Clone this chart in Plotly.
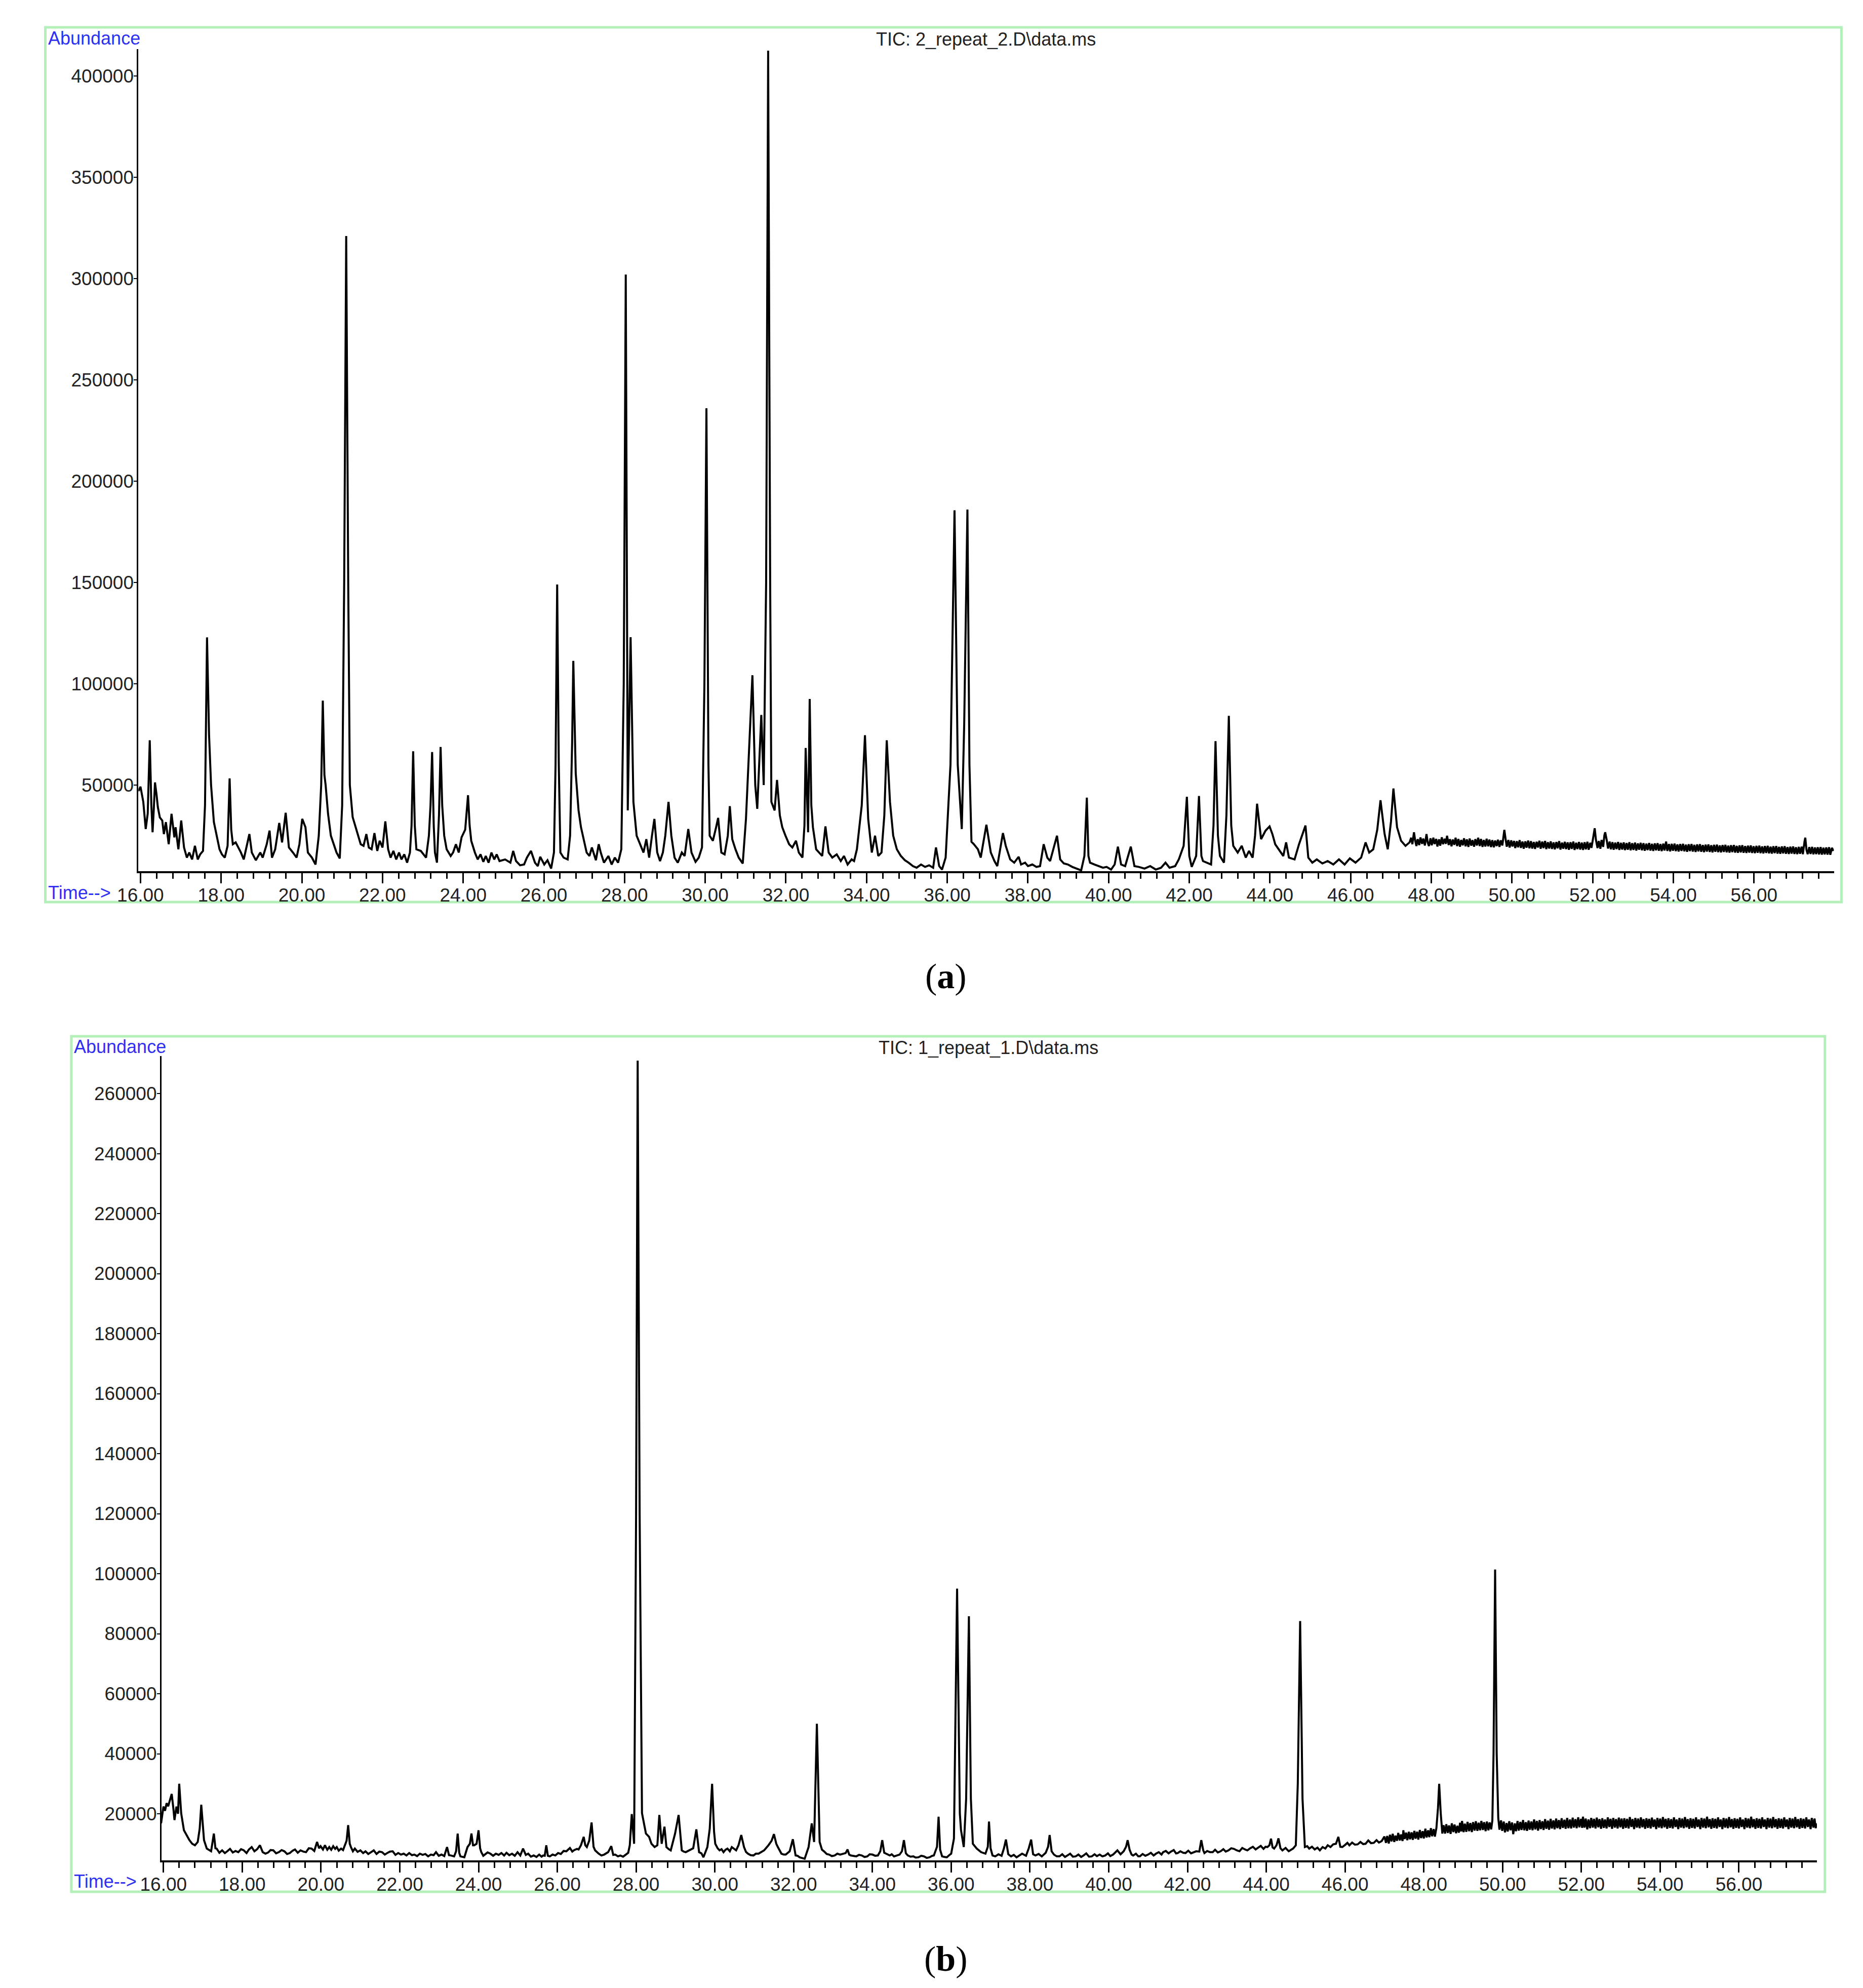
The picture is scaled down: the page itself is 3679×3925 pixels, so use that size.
import plotly.graph_objects as go

# ---------------- data: panel (a)  TIC: 2_repeat_2.D\data.ms  (time [min], abundance) ----------------
chrom_a = [
    (15.95, 47000), (16.00, 49200), (16.07, 41700), (16.13, 28300), (16.18, 36000), (16.23, 72100),
    (16.27, 40000), (16.30, 26700), (16.33, 38000), (16.36, 51300), (16.40, 45000), (16.43, 39200),
    (16.48, 34000), (16.54, 32500), (16.58, 25800), (16.63, 31700), (16.70, 20800), (16.77, 35800),
    (16.84, 24200), (16.87, 29200), (16.94, 18300), (17.01, 32500), (17.08, 19200), (17.15, 14200),
    (17.21, 16700), (17.28, 13300), (17.35, 20000), (17.42, 13300), (17.48, 15800), (17.55, 17500),
    (17.60, 40000), (17.65, 122900), (17.70, 75000), (17.75, 50000), (17.82, 31700), (17.89, 25000),
    (17.96, 18300), (18.02, 15800), (18.09, 14200), (18.16, 20000), (18.21, 53300), (18.25, 28000),
    (18.29, 20800), (18.36, 21700), (18.43, 19200), (18.49, 16700), (18.56, 13300), (18.63, 20000),
    (18.70, 25800), (18.76, 16700), (18.86, 12900), (18.97, 16700), (19.03, 14200), (19.13, 20800),
    (19.20, 27500), (19.26, 14200), (19.34, 18300), (19.44, 31300), (19.51, 21700), (19.60, 36300),
    (19.68, 19200), (19.78, 16700), (19.87, 14200), (19.94, 20800), (20.01, 33300), (20.09, 29200),
    (20.15, 16700), (20.25, 14200), (20.34, 10800), (20.42, 25000), (20.48, 50000), (20.52, 91700),
    (20.56, 55000), (20.59, 50000), (20.65, 35800), (20.72, 25000), (20.79, 20800), (20.86, 16700),
    (20.94, 13800), (21.00, 40000), (21.05, 150000), (21.10, 321000), (21.15, 150000), (21.19, 50000),
    (21.26, 34200), (21.33, 29200), (21.39, 25000), (21.46, 20800), (21.53, 20000), (21.60, 25800),
    (21.66, 19200), (21.73, 18300), (21.80, 26300), (21.87, 17500), (21.93, 22500), (22.00, 19200),
    (22.07, 32100), (22.14, 18300), (22.20, 14200), (22.27, 17500), (22.34, 13300), (22.41, 16700),
    (22.47, 13300), (22.54, 15800), (22.61, 11700), (22.68, 16700), (22.72, 30000), (22.76, 66700),
    (22.80, 30000), (22.84, 18300), (22.95, 17500), (23.01, 15800), (23.08, 14200), (23.15, 25000),
    (23.19, 40000), (23.23, 66300), (23.27, 30000), (23.30, 16700), (23.35, 11700), (23.40, 35000),
    (23.44, 68800), (23.48, 40000), (23.53, 25000), (23.59, 18300), (23.69, 15000), (23.75, 16700),
    (23.82, 20800), (23.89, 16700), (23.96, 24200), (24.05, 28000), (24.12, 45000), (24.16, 30000),
    (24.20, 22500), (24.29, 16700), (24.36, 13300), (24.43, 15800), (24.50, 12100), (24.56, 15000),
    (24.63, 11700), (24.70, 16700), (24.77, 13300), (24.83, 15800), (24.90, 12500), (25.04, 13300),
    (25.17, 11700), (25.24, 17500), (25.31, 12500), (25.41, 10400), (25.51, 10800), (25.58, 14200),
    (25.68, 17500), (25.78, 11700), (25.85, 10000), (25.91, 14600), (26.01, 10800), (26.09, 12900),
    (26.18, 8800), (26.25, 16700), (26.29, 60000), (26.33, 149000), (26.37, 60000), (26.41, 16700),
    (26.49, 14200), (26.59, 13300), (26.65, 25000), (26.70, 70000), (26.73, 111300), (26.79, 55800),
    (26.86, 37500), (26.92, 29200), (26.99, 22500), (27.06, 16700), (27.13, 15000), (27.19, 19200),
    (27.29, 12900), (27.36, 20800), (27.41, 16700), (27.49, 11700), (27.60, 15000), (27.68, 10800),
    (27.76, 14200), (27.84, 11700), (27.92, 18300), (27.98, 100000), (28.03, 302000), (28.08, 37500),
    (28.15, 123000), (28.22, 41700), (28.30, 25000), (28.38, 20800), (28.47, 16700), (28.54, 23300),
    (28.61, 14200), (28.68, 25000), (28.74, 33300), (28.81, 16700), (28.88, 12500), (28.95, 16700),
    (29.01, 25000), (29.09, 41700), (29.16, 25000), (29.24, 14200), (29.32, 11700), (29.42, 16700),
    (29.49, 15000), (29.58, 28300), (29.66, 16700), (29.76, 12100), (29.84, 14200), (29.92, 19200),
    (29.98, 100000), (30.03, 236000), (30.08, 60000), (30.11, 25000), (30.19, 22500), (30.27, 29200),
    (30.32, 33800), (30.40, 16700), (30.48, 15800), (30.56, 25000), (30.61, 39600), (30.67, 23300),
    (30.75, 18300), (30.83, 14200), (30.93, 11300), (31.01, 33300), (31.10, 75000), (31.17, 104200),
    (31.24, 50000), (31.29, 38300), (31.39, 84600), (31.45, 50000), (31.51, 150000), (31.56, 412500),
    (31.61, 150000), (31.64, 41700), (31.72, 37500), (31.78, 52500), (31.85, 35000), (31.91, 29200),
    (31.99, 25000), (32.08, 20800), (32.16, 19200), (32.25, 22500), (32.32, 16700), (32.41, 14200),
    (32.46, 30000), (32.49, 68300), (32.55, 26700), (32.59, 92500), (32.63, 40000), (32.67, 29200),
    (32.75, 18300), (32.83, 16700), (32.90, 15000), (32.98, 29600), (33.06, 16700), (33.15, 14200),
    (33.26, 15800), (33.36, 12500), (33.44, 15000), (33.53, 10800), (33.63, 13300), (33.69, 12500),
    (33.76, 18300), (33.88, 40000), (33.96, 74600), (34.04, 33300), (34.13, 16700), (34.21, 25000),
    (34.29, 15000), (34.37, 16700), (34.44, 35000), (34.50, 72100), (34.58, 41700), (34.66, 25000),
    (34.75, 18300), (34.85, 15000), (34.95, 12900), (35.04, 11700), (35.15, 10000), (35.24, 9200),
    (35.35, 10800), (35.45, 9600), (35.55, 10400), (35.65, 9200), (35.72, 19200), (35.80, 10000),
    (35.87, 8300), (35.96, 14200), (36.08, 60000), (36.18, 185600), (36.26, 60000), (36.36, 28300),
    (36.42, 80000), (36.50, 186000), (36.55, 60000), (36.60, 22000), (36.66, 20800), (36.76, 18300),
    (36.83, 14200), (36.97, 30400), (37.08, 16700), (37.17, 12500), (37.24, 10000), (37.38, 26300),
    (37.45, 20000), (37.56, 13300), (37.66, 11700), (37.77, 14600), (37.83, 10800), (37.93, 11700),
    (38.00, 10000), (38.11, 10800), (38.21, 9600), (38.30, 10000), (38.39, 20800), (38.48, 14200),
    (38.55, 12500), (38.72, 25000), (38.80, 13300), (38.89, 11300), (38.99, 10800), (39.10, 9600),
    (39.21, 8800), (39.32, 7900), (39.40, 15000), (39.46, 43800), (39.50, 15000), (39.54, 11700),
    (39.65, 10800), (39.76, 10000), (39.86, 9200), (39.95, 9600), (40.06, 8300), (40.15, 10800),
    (40.23, 19600), (40.31, 10800), (40.41, 10000), (40.55, 19600), (40.64, 10000), (40.75, 9600),
    (40.89, 8800), (41.03, 10000), (41.17, 8300), (41.30, 9200), (41.41, 11700), (41.51, 9200),
    (41.65, 10000), (41.74, 13300), (41.86, 20000), (41.94, 44200), (42.00, 15000), (42.06, 9600),
    (42.17, 15000), (42.24, 44600), (42.30, 15000), (42.34, 12500), (42.43, 11700), (42.54, 10800),
    (42.60, 30000), (42.65, 71700), (42.71, 25000), (42.76, 15000), (42.86, 11700), (42.92, 35000),
    (42.98, 84200), (43.04, 30000), (43.09, 20000), (43.20, 16700), (43.30, 20000), (43.40, 14200),
    (43.48, 17500), (43.57, 14200), (43.63, 25000), (43.68, 40800), (43.78, 23300), (43.89, 27500),
    (43.99, 29600), (44.06, 25800), (44.13, 20800), (44.22, 18300), (44.33, 15000), (44.40, 21700),
    (44.47, 14200), (44.61, 13300), (44.72, 20800), (44.88, 30000), (44.95, 14200), (45.05, 11700),
    (45.16, 13300), (45.30, 11300), (45.43, 12500), (45.57, 10800), (45.71, 13300), (45.85, 10800),
    (45.98, 13800), (46.12, 11700), (46.26, 14200), (46.37, 21700), (46.46, 16700), (46.56, 18300),
    (46.66, 28000), (46.74, 42500), (46.84, 26000), (46.92, 18300), (47.00, 32000), (47.06, 48300),
    (47.15, 29200), (47.25, 22500), (47.36, 20000),
]

# noisy late baseline of panel (a), read point by point
tail_a = [
    (47.46, 21700), (47.50, 24000), (47.53, 20800), (47.57, 26700), (47.60, 22500), (47.63, 19900),
    (47.66, 23300), (47.70, 20400), (47.73, 24100), (47.77, 21000), (47.80, 23600), (47.84, 20200),
    (47.88, 25800), (47.91, 21700), (47.94, 19900), (47.98, 23700), (48.01, 20300), (48.05, 24000),
    (48.08, 20900), (48.12, 23400), (48.15, 19700), (48.19, 23200), (48.22, 20100), (48.26, 24200),
    (48.29, 20800), (48.33, 23500), (48.36, 21000), (48.39, 25000), (48.43, 20400), (48.46, 23300),
    (48.50, 19800), (48.53, 23100), (48.57, 20500), (48.60, 24000), (48.64, 19900), (48.67, 23400),
    (48.71, 19600), (48.74, 22900), (48.78, 20300), (48.81, 23700), (48.85, 19800), (48.88, 23200),
    (48.92, 19500), (48.95, 23600), (48.99, 20100), (49.02, 22800), (49.06, 19600), (49.09, 23300),
    (49.13, 20200), (49.16, 24000), (49.20, 19900), (49.23, 23400), (49.27, 19500), (49.30, 22900),
    (49.34, 19700), (49.37, 23500), (49.41, 19800), (49.44, 23100), (49.48, 19400), (49.51, 22800),
    (49.55, 19300), (49.58, 22600), (49.62, 19900), (49.65, 23000), (49.69, 19500), (49.72, 22700),
    (49.76, 20200), (49.79, 25000), (49.81, 27900), (49.84, 23500), (49.87, 19600), (49.91, 22900),
    (49.94, 19200), (49.98, 22700), (50.01, 19700), (50.05, 22400), (50.08, 18900), (50.12, 22300),
    (50.15, 19300), (50.19, 22800), (50.22, 19000), (50.26, 22100), (50.29, 18600), (50.33, 22200),
    (50.36, 19100), (50.40, 22600), (50.43, 18800), (50.47, 22300), (50.50, 18700), (50.54, 21900),
    (50.57, 18500), (50.61, 22000), (50.64, 19200), (50.68, 22500), (50.71, 18600), (50.75, 22100),
    (50.78, 18900), (50.82, 22400), (50.85, 18400), (50.89, 21800), (50.92, 18700), (50.96, 22200),
    (50.99, 18500), (51.03, 21700), (51.06, 18300), (51.10, 21900), (51.13, 18800), (51.17, 22300),
    (51.20, 18200), (51.24, 21600), (51.27, 18600), (51.31, 22000), (51.34, 18400), (51.38, 21700),
    (51.41, 18100), (51.45, 21800), (51.48, 18500), (51.52, 22100), (51.55, 18000), (51.59, 21500),
    (51.62, 18400), (51.66, 21900), (51.69, 18200), (51.73, 21600), (51.76, 18000), (51.80, 21800),
    (51.83, 18300), (51.87, 22000), (51.90, 18100), (51.94, 21500), (51.97, 19000), (52.01, 23800),
    (52.05, 28700), (52.08, 23000), (52.12, 18900), (52.15, 22400), (52.19, 18600), (52.22, 22900),
    (52.26, 19500), (52.29, 25200), (52.31, 26700), (52.35, 22600), (52.38, 18700), (52.42, 22100),
    (52.45, 18300), (52.49, 21800), (52.52, 18100), (52.56, 21600), (52.59, 18400), (52.63, 21900),
    (52.66, 18000), (52.70, 21500), (52.73, 18200), (52.77, 21700), (52.80, 17900), (52.84, 21400),
    (52.87, 18100), (52.91, 21800), (52.94, 17800), (52.98, 21300), (53.01, 18000), (53.05, 21600),
    (53.08, 17700), (53.12, 21200), (53.15, 18100), (53.19, 21500), (53.22, 17800), (53.26, 21300),
    (53.29, 17600), (53.33, 21100), (53.36, 17900), (53.40, 21400), (53.43, 17700), (53.47, 21000),
    (53.50, 17500), (53.54, 21200), (53.57, 17800), (53.61, 21300), (53.64, 17600), (53.68, 20900),
    (53.71, 17400), (53.75, 21100), (53.78, 17700), (53.82, 22100), (53.85, 17500), (53.89, 20900),
    (53.92, 17300), (53.96, 21000), (53.99, 17600), (54.03, 21100), (54.06, 17400), (54.10, 20700),
    (54.13, 17200), (54.17, 20900), (54.20, 17500), (54.24, 21000), (54.27, 17300), (54.31, 20600),
    (54.34, 17100), (54.38, 20800), (54.41, 17400), (54.45, 20900), (54.48, 17200), (54.52, 20500),
    (54.55, 17000), (54.59, 20700), (54.62, 17300), (54.66, 20800), (54.69, 17100), (54.73, 20400),
    (54.76, 16900), (54.80, 20600), (54.83, 17200), (54.87, 20700), (54.90, 17000), (54.94, 20300),
    (54.97, 16800), (55.01, 20500), (55.04, 17100), (55.08, 20600), (55.11, 16900), (55.15, 20200),
    (55.18, 16800), (55.22, 20400), (55.25, 17000), (55.29, 20500), (55.32, 16800), (55.36, 20100),
    (55.39, 16700), (55.43, 20300), (55.46, 16900), (55.50, 20400), (55.53, 16700), (55.57, 20000),
    (55.60, 16600), (55.64, 20200), (55.67, 16800), (55.71, 20300), (55.74, 16600), (55.78, 19900),
    (55.81, 16500), (55.85, 20100), (55.88, 16700), (55.92, 20200), (55.95, 16500), (55.99, 19800),
    (56.02, 16400), (56.06, 20000), (56.09, 16600), (56.13, 20100), (56.16, 16400), (56.20, 19700),
    (56.23, 16300), (56.27, 19900), (56.30, 16500), (56.34, 20000), (56.37, 16300), (56.41, 19600),
    (56.44, 16200), (56.48, 19800), (56.51, 16400), (56.55, 19900), (56.58, 16200), (56.62, 19500),
    (56.65, 16100), (56.69, 19700), (56.72, 16300), (56.76, 19800), (56.79, 16100), (56.83, 19400),
    (56.86, 16000), (56.90, 19600), (56.93, 16200), (56.97, 19700), (57.00, 16000), (57.04, 19300),
    (57.07, 15900), (57.11, 19500), (57.14, 16100), (57.18, 19600), (57.21, 15900), (57.25, 22000),
    (57.27, 24000), (57.30, 18000), (57.33, 15900), (57.37, 19400), (57.40, 16000), (57.44, 19500),
    (57.47, 15800), (57.51, 19200), (57.54, 15900), (57.58, 19300), (57.61, 15800), (57.65, 19400),
    (57.68, 15700), (57.72, 19100), (57.75, 15800), (57.79, 19200), (57.82, 15700), (57.86, 19300),
    (57.89, 15600), (57.93, 19000), (57.97, 17500),
]

# ---------------- data: panel (b)  TIC: 1_repeat_1.D\data.ms ----------------
chrom_b = [
    (15.94, 16800), (16.00, 22400), (16.04, 21000), (16.08, 23500), (16.12, 22500), (16.15, 24100),
    (16.21, 26600), (16.25, 22000), (16.28, 17900), (16.33, 22400), (16.37, 20000), (16.40, 30000),
    (16.45, 20200), (16.52, 14500), (16.59, 12900), (16.66, 11200), (16.73, 10000), (16.80, 9500),
    (16.87, 10600), (16.92, 15000), (16.96, 23000), (17.00, 15000), (17.03, 11200), (17.10, 8400),
    (17.21, 7500), (17.28, 13400), (17.32, 8500), (17.35, 8400), (17.42, 7000), (17.49, 7800),
    (17.56, 6900), (17.62, 7500), (17.69, 8300), (17.76, 7100), (17.83, 7600), (17.90, 7200),
    (17.97, 8200), (18.04, 7800), (18.11, 6900), (18.17, 8100), (18.24, 8900), (18.31, 7500),
    (18.38, 8200), (18.45, 9500), (18.52, 7200), (18.59, 6700), (18.66, 7100), (18.72, 7900),
    (18.79, 7800), (18.86, 6800), (18.93, 7200), (19.00, 7900), (19.07, 7500), (19.14, 6600),
    (19.21, 6900), (19.28, 7700), (19.34, 8100), (19.41, 7000), (19.48, 7800), (19.55, 7400),
    (19.62, 7200), (19.69, 8500), (19.76, 8400), (19.83, 7600), (19.90, 10600), (19.95, 8500),
    (19.99, 9200), (20.05, 8100), (20.10, 9500), (20.16, 8000), (20.21, 8900), (20.26, 8000),
    (20.31, 9200), (20.36, 8300), (20.40, 8900), (20.45, 7700), (20.51, 8400), (20.56, 7900),
    (20.60, 9500), (20.65, 11000), (20.69, 16200), (20.73, 10000), (20.76, 8900), (20.81, 7500),
    (20.86, 8400), (20.93, 7300), (21.00, 7800), (21.07, 6900), (21.13, 7500), (21.20, 6600),
    (21.27, 7200), (21.34, 7800), (21.41, 6600), (21.48, 7400), (21.55, 7200), (21.62, 6400),
    (21.68, 6900), (21.75, 7400), (21.82, 7500), (21.89, 6300), (21.96, 6900), (22.03, 6400),
    (22.10, 6700), (22.17, 6100), (22.24, 6900), (22.31, 6200), (22.37, 6400), (22.44, 5900),
    (22.51, 6700), (22.58, 6300), (22.65, 6600), (22.72, 5800), (22.79, 6400), (22.86, 6200),
    (22.92, 7200), (22.99, 6000), (23.06, 6400), (23.13, 5900), (23.20, 8900), (23.25, 6200),
    (23.30, 6100), (23.38, 5800), (23.43, 7500), (23.47, 13400), (23.51, 7000), (23.54, 5800),
    (23.64, 5500), (23.72, 8900), (23.78, 10000), (23.82, 13400), (23.86, 9500), (23.89, 9500),
    (23.95, 10000), (24.00, 14500), (24.04, 8500), (24.07, 7200), (24.12, 6000), (24.16, 6400),
    (24.23, 7100), (24.30, 6700), (24.37, 6000), (24.44, 6700), (24.51, 6300), (24.58, 6900),
    (24.65, 6100), (24.71, 7000), (24.78, 6200), (24.85, 6700), (24.92, 6000), (24.99, 7200),
    (25.06, 6100), (25.13, 8400), (25.20, 6300), (25.26, 6700), (25.33, 5700), (25.40, 6100),
    (25.47, 5600), (25.54, 6400), (25.60, 5700), (25.64, 6100), (25.68, 6000), (25.72, 9500),
    (25.76, 6000), (25.81, 5800), (25.88, 6400), (25.95, 6100), (26.02, 6900), (26.09, 6600),
    (26.16, 7600), (26.23, 7500), (26.32, 8600), (26.38, 7400), (26.43, 7900), (26.50, 8300),
    (26.54, 8100), (26.60, 9500), (26.67, 12300), (26.71, 9500), (26.75, 8900), (26.81, 11000),
    (26.87, 17100), (26.92, 9000), (26.96, 7800), (27.05, 6700), (27.12, 6100), (27.19, 6400),
    (27.29, 7200), (27.37, 9200), (27.42, 6300), (27.47, 6400), (27.54, 5800), (27.60, 6100),
    (27.67, 5700), (27.74, 6400), (27.80, 7000), (27.84, 9500), (27.89, 19900), (27.95, 10000),
    (28.00, 120000), (28.04, 271000), (28.09, 120000), (28.15, 20200), (28.25, 13400), (28.33, 12300),
    (28.39, 10000), (28.47, 8900), (28.54, 9500), (28.59, 19600), (28.65, 10000), (28.72, 15700),
    (28.77, 8900), (28.83, 8200), (28.88, 7800), (28.99, 13400), (29.08, 19600), (29.16, 7800),
    (29.21, 7400), (29.26, 7200), (29.35, 7800), (29.45, 8500), (29.53, 14800), (29.60, 7200),
    (29.66, 6800), (29.71, 5500), (29.81, 8900), (29.87, 15000), (29.93, 30000), (29.98, 14000),
    (30.01, 10000), (30.07, 8500), (30.12, 7800), (30.17, 8200), (30.22, 7200), (30.27, 8000),
    (30.32, 8400), (30.38, 7500), (30.43, 8900), (30.54, 7800), (30.60, 9500), (30.67, 12900),
    (30.74, 8900), (30.79, 7300), (30.84, 6700), (30.91, 6200), (30.98, 6100), (31.04, 6700),
    (31.11, 6700), (31.18, 7200), (31.25, 7800), (31.36, 9500), (31.44, 11000), (31.50, 13200),
    (31.56, 10000), (31.60, 8900), (31.69, 6700), (31.75, 6400), (31.80, 6400), (31.90, 7500),
    (31.98, 11500), (32.05, 6100), (32.10, 6000), (32.15, 5500), (32.22, 5200), (32.28, 5000),
    (32.38, 8900), (32.46, 16800), (32.52, 10600), (32.59, 50000), (32.66, 10600), (32.72, 8000),
    (32.77, 7500), (32.84, 6600), (32.90, 6400), (32.97, 5900), (33.04, 6100), (33.11, 6700),
    (33.18, 6400), (33.25, 6700), (33.32, 6900), (33.37, 8100), (33.41, 6400), (33.45, 6100),
    (33.52, 5900), (33.59, 5800), (33.66, 6300), (33.73, 6100), (33.80, 5600), (33.87, 5800),
    (33.93, 6500), (34.00, 6400), (34.07, 6000), (34.14, 6100), (34.20, 7500), (34.25, 11200),
    (34.30, 7000), (34.35, 6700), (34.44, 6100), (34.49, 6500), (34.55, 5800), (34.62, 6100),
    (34.69, 6400), (34.75, 7500), (34.80, 11200), (34.85, 6800), (34.90, 6100), (34.97, 5700),
    (35.04, 5800), (35.10, 5400), (35.17, 5500), (35.24, 6000), (35.31, 5800), (35.38, 5300),
    (35.45, 5500), (35.52, 6000), (35.56, 6100), (35.64, 9000), (35.68, 19000), (35.72, 8000),
    (35.77, 5800), (35.83, 5600), (35.89, 5500), (35.95, 6200), (36.00, 6700), (36.07, 11700),
    (36.15, 95000), (36.22, 20000), (36.25, 14500), (36.32, 8900), (36.38, 25000), (36.45, 85800),
    (36.50, 25000), (36.55, 10000), (36.65, 8400), (36.76, 7200), (36.87, 6700), (36.93, 9000),
    (36.96, 17400), (37.00, 8500), (37.03, 7200), (37.05, 6100), (37.12, 5800), (37.20, 6500),
    (37.28, 6000), (37.34, 8500), (37.39, 11400), (37.45, 6500), (37.52, 5800), (37.59, 6300),
    (37.66, 5500), (37.73, 6100), (37.80, 6700), (37.90, 6000), (37.97, 8500), (38.03, 11400),
    (38.08, 6500), (38.14, 6100), (38.22, 6600), (38.30, 5800), (38.40, 7000), (38.46, 9000),
    (38.50, 12900), (38.55, 7500), (38.61, 6400), (38.68, 5800), (38.75, 5800), (38.82, 6500),
    (38.89, 5600), (38.95, 6100), (39.02, 6700), (39.09, 5700), (39.16, 5800), (39.23, 6400),
    (39.30, 5600), (39.36, 6100), (39.43, 6800), (39.50, 5700), (39.57, 5800), (39.64, 6500),
    (39.70, 5900), (39.77, 6400), (39.84, 5800), (39.91, 6100), (39.98, 6800), (40.04, 5900),
    (40.11, 6400), (40.22, 7800), (40.30, 6500), (40.38, 7500), (40.44, 9000), (40.48, 11200),
    (40.53, 8000), (40.58, 6400), (40.62, 6100), (40.69, 6700), (40.75, 5800), (40.79, 5800),
    (40.86, 6600), (40.93, 6000), (41.00, 6400), (41.07, 7000), (41.14, 6100), (41.20, 6700),
    (41.27, 7200), (41.34, 6400), (41.38, 7200), (41.45, 7600), (41.52, 6800), (41.58, 7400),
    (41.65, 7900), (41.71, 6800), (41.75, 6900), (41.82, 7500), (41.89, 7000), (41.95, 6900),
    (42.02, 7700), (42.09, 6800), (42.16, 7200), (42.22, 7500), (42.30, 7400), (42.35, 11200),
    (42.40, 7800), (42.43, 6900), (42.50, 7600), (42.57, 7200), (42.64, 7200), (42.70, 8000),
    (42.77, 7100), (42.84, 7500), (42.91, 8200), (42.97, 7400), (43.04, 7800), (43.11, 8500),
    (43.18, 8300), (43.25, 7800), (43.32, 7500), (43.39, 8600), (43.46, 8100), (43.52, 7800),
    (43.59, 8500), (43.66, 9000), (43.73, 8100), (43.80, 8700), (43.86, 9300), (43.93, 8300),
    (43.98, 9000), (44.03, 8900), (44.08, 9500), (44.12, 11700), (44.16, 8800), (44.20, 8400),
    (44.26, 9500), (44.31, 11800), (44.36, 8500), (44.41, 7800), (44.49, 8600), (44.57, 7500),
    (44.63, 8000), (44.68, 8400), (44.75, 9500), (44.80, 30000), (44.86, 84200), (44.92, 25000),
    (44.98, 8900), (45.04, 9200), (45.09, 8400), (45.16, 9000), (45.23, 8100), (45.30, 8700),
    (45.36, 7800), (45.43, 8900), (45.50, 8400), (45.56, 9500), (45.63, 8900), (45.70, 9800),
    (45.77, 10000), (45.83, 12300), (45.88, 9000), (45.93, 8900), (46.00, 9600), (46.06, 10300),
    (46.11, 9500), (46.18, 10400), (46.25, 9700), (46.32, 9800), (46.39, 10600), (46.46, 9900),
    (46.52, 10000), (46.59, 11100), (46.66, 10200), (46.73, 10300), (46.80, 11200), (46.86, 10400),
    (46.93, 10900),
]

# noisy late baseline of panel (b), read point by point
tail_b = [
    (47.00, 12400), (47.04, 10300), (47.07, 12600), (47.11, 10100), (47.14, 13000), (47.18, 10800),
    (47.21, 13300), (47.25, 10600), (47.28, 12700), (47.32, 11000), (47.35, 13600), (47.39, 11100),
    (47.42, 13100), (47.46, 10900), (47.48, 14500), (47.51, 11600), (47.55, 13700), (47.58, 11200),
    (47.62, 14000), (47.65, 11500), (47.69, 13800), (47.72, 11300), (47.76, 14300), (47.79, 11700),
    (47.83, 14000), (47.86, 11400), (47.90, 14600), (47.93, 11900), (47.97, 14200), (48.00, 11800),
    (48.04, 15000), (48.07, 12100), (48.11, 14500), (48.14, 12200), (48.18, 15200), (48.21, 12500),
    (48.25, 14900), (48.28, 12400), (48.32, 15300), (48.36, 22000), (48.39, 30000), (48.43, 20000),
    (48.47, 13400), (48.50, 16200), (48.54, 13400), (48.57, 16500), (48.61, 13600), (48.64, 16100),
    (48.68, 13300), (48.71, 16800), (48.75, 13900), (48.78, 16400), (48.82, 13500), (48.85, 16000),
    (48.89, 13700), (48.92, 17000), (48.95, 14100), (48.97, 17600), (49.01, 13900), (49.04, 16700),
    (49.08, 14000), (49.11, 17300), (49.15, 14200), (49.18, 16900), (49.22, 13900), (49.25, 17200),
    (49.29, 14400), (49.32, 17500), (49.36, 14300), (49.39, 17000), (49.43, 14500), (49.46, 17600),
    (49.50, 14600), (49.53, 17200), (49.57, 14200), (49.60, 17400), (49.64, 14500), (49.67, 17100),
    (49.71, 14800), (49.74, 17800), (49.77, 40000), (49.81, 101400), (49.85, 40000), (49.89, 18600),
    (49.92, 14700), (49.96, 17800), (49.99, 14300), (50.03, 17400), (50.06, 13800), (50.10, 16900),
    (50.13, 14100), (50.17, 17500), (50.20, 14500), (50.24, 17100), (50.27, 13200), (50.31, 16800),
    (50.34, 14200), (50.38, 17600), (50.41, 14400), (50.45, 17300), (50.48, 14600), (50.52, 17900),
    (50.55, 14500), (50.59, 17200), (50.62, 14300), (50.66, 17700), (50.69, 14700), (50.73, 17400),
    (50.76, 14500), (50.80, 18100), (50.83, 14800), (50.87, 17600), (50.90, 14400), (50.94, 17900),
    (50.97, 14900), (51.01, 17500), (51.04, 14600), (51.08, 18200), (51.11, 15000), (51.15, 17700),
    (51.18, 14700), (51.22, 18300), (51.25, 15100), (51.29, 17800), (51.32, 14800), (51.36, 18400),
    (51.39, 15200), (51.43, 17900), (51.46, 14900), (51.50, 18500), (51.53, 15300), (51.57, 18000),
    (51.60, 15000), (51.64, 18600), (51.67, 15200), (51.71, 18100), (51.74, 15100), (51.78, 18700),
    (51.81, 15400), (51.85, 18200), (51.88, 15200), (51.92, 18800), (51.95, 15500), (51.99, 18300),
    (52.02, 15300), (52.04, 19000), (52.08, 15400), (52.11, 18400), (52.15, 14800), (52.18, 18100),
    (52.22, 15200), (52.25, 18600), (52.29, 15400), (52.32, 18300), (52.36, 15100), (52.39, 18700),
    (52.43, 15500), (52.46, 18200), (52.50, 15000), (52.53, 18500), (52.57, 15300), (52.60, 18100),
    (52.64, 15100), (52.67, 18800), (52.71, 15600), (52.74, 18300), (52.78, 15000), (52.81, 18600),
    (52.85, 15400), (52.88, 18200), (52.92, 15100), (52.95, 18700), (52.99, 15500), (53.02, 18400),
    (53.06, 15000), (53.09, 18500), (53.13, 15300), (53.16, 18300), (53.20, 15100), (53.23, 18900),
    (53.27, 15600), (53.30, 18200), (53.34, 14900), (53.37, 18600), (53.41, 15400), (53.44, 18400),
    (53.48, 15200), (53.51, 18800), (53.55, 15500), (53.58, 18200), (53.62, 15000), (53.65, 18500),
    (53.69, 15300), (53.72, 18300), (53.76, 15100), (53.79, 18700), (53.83, 15600), (53.86, 18100),
    (53.90, 14900), (53.93, 18600), (53.97, 15400), (54.00, 18400), (54.04, 15200), (54.07, 18900),
    (54.11, 15500), (54.14, 18300), (54.18, 15000), (54.21, 18500), (54.25, 15300), (54.28, 18200),
    (54.32, 15100), (54.35, 18800), (54.39, 15600), (54.42, 18100), (54.46, 14900), (54.49, 18600),
    (54.53, 15400), (54.56, 18400), (54.60, 15200), (54.63, 18900), (54.67, 15500), (54.70, 18200),
    (54.74, 15000), (54.77, 18500), (54.81, 15300), (54.84, 18300), (54.88, 15100), (54.91, 18800),
    (54.95, 15600), (54.98, 18100), (55.02, 14900), (55.05, 18600), (55.09, 15400), (55.12, 18400),
    (55.16, 15200), (55.19, 19000), (55.23, 15500), (55.26, 18200), (55.30, 15000), (55.33, 18500),
    (55.37, 15300), (55.40, 18300), (55.44, 15100), (55.47, 18800), (55.51, 15600), (55.54, 18100),
    (55.58, 14900), (55.61, 18600), (55.65, 15400), (55.68, 18400), (55.72, 15200), (55.75, 18900),
    (55.79, 15500), (55.82, 18200), (55.86, 15000), (55.89, 18500), (55.93, 15300), (55.96, 18300),
    (56.00, 15100), (56.03, 18800), (56.07, 15600), (56.10, 18100), (56.14, 14900), (56.17, 18600),
    (56.21, 15400), (56.24, 18400), (56.28, 15200), (56.31, 19000), (56.35, 15500), (56.38, 18200),
    (56.42, 15000), (56.45, 18500), (56.49, 15300), (56.52, 18300), (56.56, 15100), (56.59, 18800),
    (56.63, 15600), (56.66, 18100), (56.70, 14900), (56.73, 18600), (56.77, 15400), (56.80, 18400),
    (56.84, 15200), (56.87, 18900), (56.91, 15500), (56.94, 18200), (56.98, 15000), (57.01, 18500),
    (57.05, 15300), (57.08, 18300), (57.12, 15100), (57.15, 18800), (57.19, 15600), (57.22, 18100),
    (57.26, 14900), (57.29, 18600), (57.33, 15400), (57.36, 18400), (57.40, 15200), (57.43, 18900),
    (57.47, 15500), (57.50, 18200), (57.54, 15000), (57.57, 18500), (57.61, 15300), (57.64, 18300),
    (57.68, 15100), (57.71, 18800), (57.75, 15600), (57.78, 18100), (57.82, 14900), (57.85, 18600),
    (57.89, 15400), (57.92, 18400), (57.95, 15200), (57.97, 16800),
]

time_a = [p[0] for p in chrom_a + tail_a]
abund_a = [p[1] for p in chrom_a + tail_a]
time_b = [p[0] for p in chrom_b + tail_b]
abund_b = [p[1] for p in chrom_b + tail_b]

title_a = "TIC: 2_repeat_2.D\\data.ms"
title_b = "TIC: 1_repeat_1.D\\data.ms"
y_range_a = [7500, 413250]
y_range_b = [4470, 272500]
x_range = [15.95, 57.98]

# ---------------- figure ----------------
PAGE_OFF = 8                      # default <body> margin of the written html page
W, H = 3679 - 2 * PAGE_OFF, 3925 - 2 * PAGE_OFF
BLUE = "#2f2ff0"
GREEN = "#b3efb8"
TICKFONT = dict(family="Liberation Sans, Arial, sans-serif", size=37, color="#222222")


def px_x(x):
    return (x - PAGE_OFF) / W


def px_y(y):
    return 1 - (y - PAGE_OFF) / H


fig = go.Figure()
fig.add_trace(go.Scatter(x=time_a, y=abund_a, mode="lines", xaxis="x", yaxis="y",
                         line=dict(color="black", width=4), hoverinfo="skip", showlegend=False))
fig.add_trace(go.Scatter(x=time_b, y=abund_b, mode="lines", xaxis="x2", yaxis="y2",
                         line=dict(color="black", width=4), hoverinfo="skip", showlegend=False))

xcommon = dict(range=x_range, showgrid=False, zeroline=False, showline=True, linecolor="black",
               linewidth=4, ticks="outside", ticklen=20, tickwidth=3, tickcolor="black",
               tickmode="linear", tick0=16, dtick=2, tickformat=".2f", tickfont=TICKFONT,
               ticklabelstandoff=-8,
               minor=dict(ticks="outside", ticklen=11, tickwidth=2.5, tickcolor="black",
                          tickmode="linear", tick0=16, dtick=0.4, showgrid=False),
               fixedrange=True)
ycommon = dict(showgrid=False, zeroline=False, showline=True, linecolor="black", linewidth=3,
               ticks="outside", ticklen=6, tickwidth=2, tickcolor="black", tickmode="linear",
               tick0=0, tickformat="d", tickfont=TICKFONT, ticklabelstandoff=-7, fixedrange=True)

fig.update_layout(
    width=W, height=H,
    margin=dict(l=0, r=0, t=0, b=0),
    paper_bgcolor="white", plot_bgcolor="white",
    showlegend=False,
    xaxis=dict(domain=[px_x(234), px_x(3621)], anchor="y", **xcommon),
    yaxis=dict(domain=[px_y(1720), px_y(97)], anchor="x", range=y_range_a, dtick=50000, **ycommon),
    xaxis2=dict(domain=[px_x(280), px_x(3587)], anchor="y2", **xcommon),
    yaxis2=dict(domain=[px_y(3673), px_y(2085)], anchor="x2", range=y_range_b, dtick=20000, **ycommon),
)

# green instrument frames
for (x0, y0, x1, y1) in [(48, 54, 3636, 1781), (100, 2046, 3603, 3735)]:
    fig.add_shape(type="rect", xref="paper", yref="paper",
                  x0=px_x(x0), x1=px_x(x1), y0=px_y(y1), y1=px_y(y0),
                  line=dict(color=GREEN, width=5), fillcolor="rgba(0,0,0,0)", layer="below")

blue_font = dict(family="Liberation Sans, Arial, sans-serif", size=36, color=BLUE)
title_font = dict(family="Liberation Sans, Arial, sans-serif", size=36, color="#222222")
cap_font = dict(family="Liberation Serif, Times New Roman, serif", size=70, color="black")

annots = [
    dict(text="Abundance", x=px_x(51), y=px_y(75), xanchor="left", yanchor="middle", font=blue_font),
    dict(text="Time-->", x=px_x(51), y=px_y(1762), xanchor="left", yanchor="middle", font=blue_font),
    dict(text=title_a, x=px_x(1927), y=px_y(77), xanchor="center", yanchor="middle", font=title_font),
    dict(text="(<b>a</b>)", x=px_x(1847), y=px_y(1927), xanchor="center", yanchor="middle", font=cap_font),
    dict(text="Abundance", x=px_x(103), y=px_y(2066), xanchor="left", yanchor="middle", font=blue_font),
    dict(text="Time-->", x=px_x(103), y=px_y(3714), xanchor="left", yanchor="middle", font=blue_font),
    dict(text=title_b, x=px_x(1932), y=px_y(2068), xanchor="center", yanchor="middle", font=title_font),
    dict(text="(<b>b</b>)", x=px_x(1847), y=px_y(3867), xanchor="center", yanchor="middle", font=cap_font),
]
for a in annots:
    fig.add_annotation(xref="paper", yref="paper", showarrow=False, **a)

fig.write_html("out.html")
